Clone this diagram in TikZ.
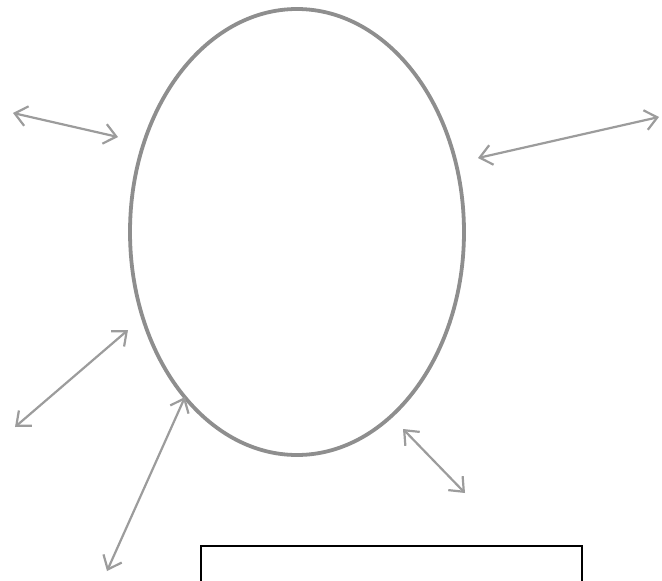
\documentclass[tikz,border=0pt]{standalone}
\usetikzlibrary{arrows.meta,shapes.geometric}
\definecolor{pencil}{HTML}{8E8E8E}
\definecolor{arrowgray}{HTML}{9C9C9C}
\tikzset{
  oval/.style={draw=pencil, line width=3.8pt, ellipse, minimum width=334pt, minimum height=446pt, inner sep=0pt},
  link/.style={draw=arrowgray, line width=2.2pt, {Straight Barb[length=12pt,width=20pt]}-{Straight Barb[length=12pt,width=20pt]}},
  frame/.style={draw=black, line width=1.6pt, rectangle, minimum width=381pt, minimum height=80pt, anchor=north west, inner sep=0pt}
}
\begin{document}
\begin{tikzpicture}[x=1pt,y=-1pt]
\useasboundingbox (0,0) rectangle (662,581);
\fill[white] (0,0) rectangle (662,581);
\node[oval] (body) at (297,232) {};
\coordinate (a1) at (13,113);  \coordinate (b1) at (118,137);
\coordinate (a2) at (478,158); \coordinate (b2) at (659,117);
\coordinate (a3) at (128,330); \coordinate (b3) at (15,427);
\coordinate (a4) at (185,397); \coordinate (b4) at (107,571);
\coordinate (a5) at (403,429); \coordinate (b5) at (465,493);
\draw[link] (a1) -- (b1);
\draw[link] (a2) -- (b2);
\draw[link] (a3) -- (b3);
\draw[link] (a4) -- (b4);
\draw[link] (a5) -- (b5);
\begin{scope}
\clip (0,0) rectangle (662,581);
\node[frame] (box) at (200,545) {};
\end{scope}
\end{tikzpicture}
\end{document}
